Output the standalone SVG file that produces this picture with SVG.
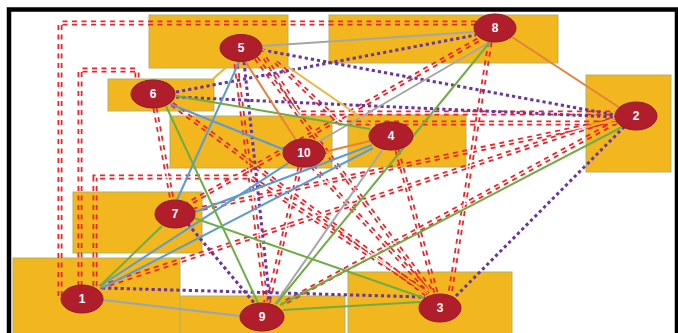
<svg xmlns="http://www.w3.org/2000/svg" xmlns:xlink="http://www.w3.org/1999/xlink" width="678" height="333" viewBox="0 0 678 333">
<style>
.area{fill:#F2B71E;stroke:#AEB36A;stroke-width:1}
.node ellipse{fill:#B01E2C;stroke:#8F1A24;stroke-width:1}
.node text{fill:#fff;font-family:"Liberation Sans",Arial,sans-serif;font-size:12px;font-weight:bold;text-anchor:middle;dominant-baseline:central}
.red{fill:none;stroke:#E8262C;stroke-width:5;stroke-dasharray:5 4.5}
.pur{fill:none;stroke:#6B34A0;stroke-width:3;stroke-dasharray:3.2 3}
.grey{stroke:#A6A6A6;stroke-width:2;fill:none}
.bgrey{stroke:#93A7BA;stroke-width:2;fill:none}
.blue{stroke:#5B9BD5;stroke-width:2;fill:none}
.green{stroke:#6FAC46;stroke-width:2;fill:none}
.orange{stroke:#E8803A;stroke-width:2;fill:none}
.gold{stroke:#EDB43A;stroke-width:2;fill:none}
</style>
<defs>
<mask id="rm" maskUnits="userSpaceOnUse" x="0" y="0" width="678" height="333">
<rect x="0" y="0" width="678" height="333" fill="#fff"/>
<use xlink:href="#red-paths" href="#red-paths" fill="none" stroke="#000" stroke-width="1.4"/>
</mask>
</defs>
<rect x="0" y="0" width="678" height="333" fill="#fff"/>
<rect x="9" y="9.5" width="668" height="340" fill="none" stroke="#000" stroke-width="4.5"/>
<g id="areas">
<rect id="area-5" class="area" x="149" y="15" width="139" height="53"/>
<rect id="area-8" class="area" x="329" y="15" width="229" height="48"/>
<rect id="area-6" class="area" x="108" y="79" width="106" height="32"/>
<rect id="area-2" class="area" x="586" y="75" width="85" height="97"/>
<rect id="area-10" class="area" x="170" y="116" width="162" height="52"/>
<rect id="area-4" class="area" x="348" y="115" width="118" height="52"/>
<rect id="area-7" class="area" x="73" y="192" width="129" height="61"/>
<rect id="area-1" class="area" x="13" y="258" width="167" height="80"/>
<rect id="area-9" class="area" x="180" y="296" width="165" height="40"/>
<rect id="area-3" class="area" x="348" y="272" width="164" height="64"/>
</g>
<g id="connectors">
<g class="red" mask="url(#rm)">
<g id="red-paths">
<path d="M60,296 V23 H476"/>
<path d="M80,286 V70 H137 V82"/>
<path d="M95,286 V177 H250 L428,293"/>
<path d="M265,58 L300,113 H615"/>
<path d="M276,62 L340,123 H616"/>
<path d="M100,287 L616,118"/>
<path d="M478,40 L188,204"/>
<path d="M490,42 L450,294"/>
<path d="M397,150 L436,293"/>
<path d="M256,58 L432,292"/>
<path d="M312,166 L430,292"/>
<path d="M172,104 L426,294"/>
<path d="M616,120 L194,210"/>
<path d="M616,122 L282,304"/>
<path d="M300,167 L268,303"/>
<path d="M155,108 L172,200"/>
<path d="M236,64 L266,302"/>
</g>
</g>
<g id="purple-links">
<line class="pur" x1="262" y1="50" x2="615" y2="115"/>
<line class="pur" x1="176" y1="92" x2="476" y2="35"/>
<line class="pur" x1="176" y1="97" x2="615" y2="117"/>
<line class="pur" x1="244" y1="62" x2="270" y2="303"/>
<line class="pur" x1="188" y1="224" x2="255" y2="304"/>
<line class="pur" x1="102" y1="288" x2="425" y2="297"/>
<line class="pur" x1="456" y1="296" x2="624" y2="127"/>
</g>
<g id="solid-links">
<line class="grey" x1="262" y1="46" x2="474" y2="32"/>
<line class="grey" x1="318" y1="142" x2="490" y2="42"/>
<line class="grey" x1="383" y1="149" x2="275" y2="304"/>
<line class="bgrey" x1="103" y1="300" x2="240" y2="316"/>
<line class="blue" x1="239" y1="62" x2="177" y2="200"/>
<line class="blue" x1="170" y1="104" x2="285" y2="150"/>
<line class="blue" x1="195" y1="212" x2="372" y2="145"/>
<line class="blue" x1="100" y1="286" x2="290" y2="162"/>
<line class="blue" x1="102" y1="288" x2="373" y2="148"/>
<line class="green" x1="166" y1="106" x2="258" y2="303"/>
<line class="green" x1="176" y1="96" x2="370" y2="129"/>
<line class="green" x1="100" y1="286" x2="162" y2="226"/>
<line class="green" x1="194" y1="218" x2="424" y2="298"/>
<line class="green" x1="276" y1="304" x2="490" y2="42"/>
<line class="green" x1="280" y1="305" x2="622" y2="127"/>
<line class="green" x1="283" y1="310" x2="420" y2="302"/>
<line class="orange" x1="512" y1="37" x2="620" y2="108"/>
<line class="orange" x1="245" y1="61" x2="296" y2="140"/>
<line class="orange" x1="324" y1="152" x2="370" y2="141"/>
<line class="gold" x1="213" y1="79" x2="232" y2="62"/>
<line class="gold" x1="262" y1="49" x2="375" y2="127"/>
</g>
</g>
<g id="node-5" class="node"><ellipse cx="241" cy="48" rx="21" ry="13.5"/><text x="241" y="48">5</text></g>
<g id="node-6" class="node"><ellipse cx="153" cy="94" rx="22" ry="14"/><text x="153" y="94">6</text></g>
<g id="node-10" class="node"><ellipse cx="304" cy="153" rx="21" ry="14"/><text x="304" y="153">10</text></g>
<g id="node-8" class="node"><ellipse cx="495" cy="28" rx="21" ry="14"/><text x="495" y="28">8</text></g>
<g id="node-2" class="node"><ellipse cx="636" cy="116" rx="21" ry="14"/><text x="636" y="116">2</text></g>
<g id="node-4" class="node"><ellipse cx="391" cy="136" rx="22" ry="14"/><text x="391" y="136">4</text></g>
<g id="node-7" class="node"><ellipse cx="175" cy="214" rx="20" ry="14"/><text x="175" y="214">7</text></g>
<g id="node-1" class="node"><ellipse cx="82" cy="299" rx="21" ry="14"/><text x="82" y="299">1</text></g>
<g id="node-9" class="node"><ellipse cx="262" cy="317" rx="22" ry="14"/><text x="262" y="317">9</text></g>
<g id="node-3" class="node"><ellipse cx="440" cy="308" rx="21" ry="14"/><text x="440" y="308">3</text></g>
</svg>
